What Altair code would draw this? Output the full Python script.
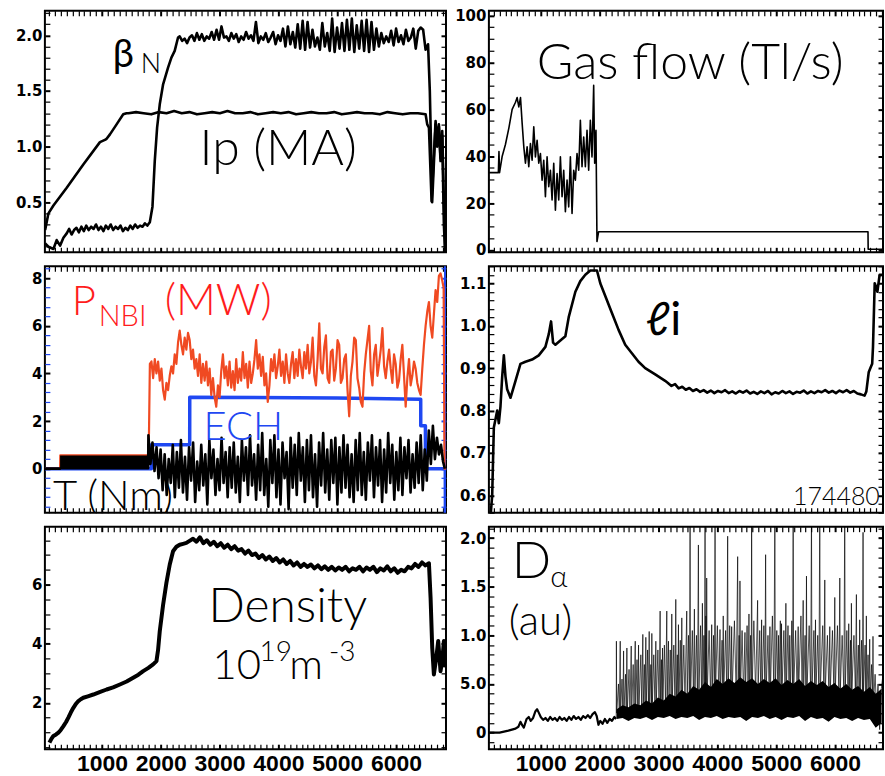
import numpy as np
import pandas as pd
import altair as alt

# ---------------- domains / layout ----------------
X_LEFT = [30, 6850]
X_RIGHT = [119, 6814]
Y_A = [0.05, 2.22]
Y_B = [-1, 102]
Y_C = [-1.85, 8.5]
Y_D = [0.559, 1.14]
Y_E = [0.43, 7.96]
Y_F = [-0.171, 2.118]
W_L, W_R = 402, 395
H1, H2, H3 = 242, 247, 223

RED_LINE = "#f04a22"
RED_TEXT = "#ff1c1c"
BLUE = "#1f48f2"

# ---------------- panel A : beta_N and Ip ----------------
IP_T = [34, 90, 175, 401, 683, 966, 1050, 1079, 1136, 1249, 1362, 1418]
IP_V = [0.25, 0.40, 0.47, 0.63, 0.84, 1.04, 1.06, 1.07, 1.11, 1.20, 1.29, 1.30]
IP_FLAT = [1.30, 1.31, 1.30, 1.29, 1.31, 1.30, 1.32, 1.30, 1.31, 1.29, 1.30, 1.31, 1.30, 1.32,
           1.30, 1.30, 1.31, 1.29, 1.30, 1.31, 1.30, 1.31, 1.29, 1.30, 1.31, 1.30, 1.30, 1.31,
           1.29, 1.30, 1.31, 1.30, 1.30, 1.29, 1.31, 1.30, 1.29, 1.30, 1.30, 1.29]
IP_END_T = [6531, 6560, 6605, 6633, 6673, 6701, 6729, 6757, 6786, 6814, 6835]
IP_END_V = [1.20, 1.17, 0.51, 0.81, 1.23, 1.02, 1.20, 0.87, 1.14, 0.51, 0.08]

BN_START_T = [34, 90, 175, 230, 288, 345]
BN_START_V = [0.13, 0.10, 0.08, 0.16, 0.11, 0.18]
BN_LOW = [0.22, 0.26, 0.21, 0.25, 0.27, 0.23, 0.28, 0.24, 0.29, 0.25, 0.28, 0.26, 0.30, 0.25,
          0.28, 0.24, 0.29, 0.26, 0.30, 0.25, 0.28, 0.26, 0.29, 0.24, 0.27, 0.25, 0.29, 0.26,
          0.30, 0.27, 0.29, 0.28, 0.31, 0.29, 0.32]
BN_RISE_T = [1859, 1898, 1938, 1983, 2040, 2124, 2181, 2237, 2294]
BN_RISE_V = [0.46, 0.87, 1.17, 1.38, 1.56, 1.71, 1.80, 1.86, 1.98]
BN_FLAT = [1.99, 1.95, 1.97, 1.93, 1.98, 2.00, 1.95, 2.02, 1.96, 2.01, 1.95, 1.99, 1.97, 2.03, 1.96,
           2.05, 1.96, 2.08, 1.98, 1.99, 1.95, 2.02, 1.97, 2.01, 1.94, 1.99, 1.96, 2.03, 1.97,
           2.00, 1.95, 2.12, 1.93, 1.99, 1.96, 2.02, 1.94, 1.98, 2.03, 1.92, 2.00,
           1.95, 2.06, 1.90, 2.08, 1.92, 2.03, 1.89, 2.10, 1.88, 2.13, 1.87, 2.12, 1.89, 2.05, 1.90,
           1.98, 1.87, 2.11, 1.90, 2.02, 1.86, 2.15, 1.85, 2.07, 1.88, 2.11, 1.86, 2.14, 1.87,
           2.15, 1.85, 2.09, 1.88, 2.13, 1.86, 2.14, 1.85, 2.12, 1.87, 2.06, 1.90, 2.02, 1.93,
           1.99, 1.94, 2.04, 1.91, 2.06, 1.94, 2.00, 1.92, 2.05, 1.95, 1.98, 2.06, 1.88, 2.04,
           2.07, 2.05, 1.87, 1.92]
BN_END_T = [6575, 6600, 6615, 6640, 6673, 6701, 6729, 6757, 6786, 6814, 6835]
BN_END_V = [1.50, 0.90, 0.50, 0.80, 1.20, 1.00, 1.18, 0.90, 1.10, 0.30, 0.05]

# ---------------- panel B : gas flow ----------------
GAS_START = [(119, 33), (280, 33), (290, 42), (300, 33), (345, 40), (400, 45), (458, 52),
             (514, 60), (571, 63), (599, 65), (627, 61), (656, 65), (684, 54), (712, 44)]
GAS_NOISE = [37, 44, 35.5, 45.4, 38.3, 52.5, 39.7, 46.8, 37, 41.1, 29.8, 38.3, 22.7, 39.7, 27,
             34, 21.3, 37, 17, 32.6, 21.3, 39.7, 22.7, 34, 16.3, 29.8, 18.4, 39.7, 15.6, 34,
             29.8, 41.1, 34, 55.3, 35.5, 48.2, 35.5, 51, 34, 55.3, 39.7, 70.2]
GAS_END = [(1916, 37), (1938, 51), (1955, 3.6), (1983, 7.8), (6559, 7.8), (6562, 0.3), (6814, 0.3)]

# ---------------- panel C : P_NBI, ECH, torque ----------------
NBI_START = [(30, 0), (288, 0), (292, 0.56), (1785, 0.56), (1800, 1.5), (1815, 4.4)]
NBI_NOISE = [4.5, 3.8, 4.6, 4.0, 4.5, 3.7, 4.2, 3.3, 2.9, 3.6, 3.3, 3.9, 4.3, 4.0, 4.8, 4.4, 5.3,
             5.8, 5.2, 4.8, 5.5, 5.0, 5.7, 5.4, 4.6, 5.0, 4.2, 4.6, 3.9, 4.8, 3.6, 4.4, 3.7, 4.5,
             3.5, 4.2, 3.1, 3.8, 3.0, 2.6, 3.5, 3.0, 4.1, 4.8, 3.8, 4.3, 3.5, 4.5, 3.4, 4.1, 3.3,
             4.6, 3.6, 4.2, 3.7, 4.9, 3.8, 4.4, 3.4, 4.5, 3.6, 4.0, 4.6, 5.4, 4.2, 4.8, 3.9, 4.7,
             3.5, 4.0, 2.8, 3.5, 4.6, 4.1, 4.8, 3.8, 4.3, 5.0, 3.9, 4.5, 3.6, 4.8, 4.0, 3.6, 4.4,
             4.9, 3.8, 4.6, 3.9, 5.0, 4.3, 3.8, 4.9, 4.2, 5.2, 4.0, 4.5, 5.5, 3.9, 3.5, 4.6, 6.1,
             4.2, 4.0, 5.1, 5.6, 3.8, 3.6, 4.9, 5.0, 3.7, 4.2, 5.4, 5.2, 3.6, 3.8, 4.6, 4.8, 3.3,
             2.2, 3.9, 4.5, 5.5, 5.4, 3.8, 3.4, 2.8, 2.6, 4.0, 4.8, 5.4, 6.0, 4.1, 3.5, 4.8, 5.2,
             3.9, 4.4, 5.0, 5.9, 4.3, 3.8, 4.5, 5.0, 4.2, 3.6, 4.8, 4.4, 3.4, 3.7, 4.6, 5.2, 3.9,
             2.6, 3.8, 4.6, 3.5, 3.9, 4.5, 4.2, 3.6, 3.3, 3.1, 4.2, 5.2, 6.0, 6.6, 7.0, 6.0, 5.5,
             6.5, 7.5, 7.0, 8.1, 8.2, 7.9]
NBI_END = [(6810, 7.6), (6825, 0.0), (6850, 0.0)]

ECH_T = [30, 1840, 1841, 2492, 2493, 5000, 6420, 6421, 6500, 6501, 6838, 6842, 6846]
ECH_V = [0, 0, 1.0, 1.0, 3.0, 2.97, 2.92, 1.8, 1.8, 0, 0, -3, 10]

TQ_START = [(30, 0), (288, 0), (290, 0.02), (1785, 0.02)]
TQ_BAND_T = [288, 1785]
TQ_BAND_LO = [0.0, 0.0]
TQ_BAND_HI = [0.55, 0.55]
TQ_NOISE = [1.4, 0.2, 1.1, -0.1, 0.9, -0.4, 0.8, -0.9, 0.6, -1.1, 0.4, -0.6, 1.0, -1.2, 0.7,
            -0.8, 1.2, -1.0, 0.5, -1.3, 0.9, -0.5, 1.1, -1.4, 0.3, -0.9, 1.0, -0.7, 0.6, -1.5,
            1.2, -0.4, 0.8, -1.1, 0.4, -0.9, 1.3, -0.6, 0.7, -1.2, 0.9, -0.8, 1.1, -1.0, 0.5,
            -1.4, 1.2, -0.5, 0.9, -1.1, 1.4, -0.7, 0.6, -1.3, 1.0, -0.9, 1.5, -1.1, 0.4, -1.6,
            1.2, -0.6, 1.4, -1.2, 0.8, -1.5, 1.1, -0.4, 0.7, -1.7, 1.3, -0.8, 1.0, -1.1, 1.5,
            -0.5, 0.9, -1.4, 1.2, -0.9, 1.4, -1.2, 0.6, -1.6, 1.1, -0.7, 1.5, -1.0, 0.8, -1.3,
            1.2, -0.6, 1.3, -1.5, 0.9, -1.0, 1.4, -0.8, 1.0, -1.2, 0.6, -1.4, 1.2, -0.9, 1.5,
            -1.1, 0.7, -1.3, 1.1, -0.5, 1.4, -1.2, 0.9, -0.7, 1.2, -1.4, 0.8, -1.0, 1.5, -0.6,
            1.0, -1.3, 0.7, -0.9, 1.3, -1.1, 0.9, -0.4, 1.2, -1.0, 0.6, -0.8, 1.1, -0.6, 1.4,
            -0.9, 0.8, -0.5, 1.6, 0.2, 1.8, 0.4, 1.3, 0.6, 1.0, 0.3]
TQ_END = [(6830, 0.0)]

# ---------------- panel D : internal inductance ----------------
LI_START = [(147, 0.55), (175, 0.60), (203, 0.76), (232, 0.78), (260, 0.80), (288, 0.77),
            (316, 0.81), (345, 0.88), (373, 0.93), (401, 0.88), (429, 0.85), (486, 0.83),
            (571, 0.87), (655, 0.91), (740, 0.915), (853, 0.92), (966, 0.93), (1079, 0.95),
            (1136, 0.98), (1175, 1.01), (1209, 0.96), (1249, 0.955), (1333, 0.965),
            (1418, 0.975), (1475, 1.02), (1588, 1.08), (1672, 1.105), (1757, 1.12),
            (1842, 1.13), (1955, 1.13), (2011, 1.10), (2096, 1.07), (2209, 1.03), (2322, 0.99),
            (2435, 0.955), (2548, 0.935), (2661, 0.915), (2774, 0.90), (2944, 0.885),
            (3113, 0.87)]
LI_FLAT = [0.865, 0.858, 0.862, 0.852, 0.856, 0.849, 0.853, 0.846, 0.850, 0.844, 0.848, 0.842,
           0.847, 0.841, 0.846, 0.843, 0.848, 0.841, 0.845, 0.840, 0.846, 0.842, 0.847, 0.840,
           0.844, 0.839, 0.845, 0.841, 0.846, 0.838, 0.843, 0.840, 0.846, 0.841, 0.845, 0.839,
           0.844, 0.842, 0.847, 0.840, 0.845, 0.841, 0.846, 0.843, 0.848, 0.842, 0.846, 0.841,
           0.847, 0.843, 0.848, 0.842, 0.846, 0.840, 0.838, 0.835]
LI_END = [(6531, 0.845), (6571, 0.89), (6600, 0.90), (6630, 0.91), (6644, 0.95), (6673, 1.10),
          (6700, 1.09), (6718, 1.08), (6757, 1.12), (6814, 1.12)]

# ---------------- panel E : density ----------------
DEN_START = [(107, 0.65), (140, 0.78), (175, 0.88), (220, 0.93), (260, 0.99), (300, 1.08),
             (345, 1.21), (390, 1.35), (429, 1.50), (470, 1.67), (514, 1.83), (560, 1.97),
             (599, 2.06), (640, 2.12), (683, 2.17), (760, 2.22), (853, 2.28), (960, 2.36),
             (1079, 2.45), (1190, 2.52), (1305, 2.62), (1420, 2.72), (1531, 2.85), (1620, 2.95),
             (1701, 3.07), (1790, 3.18), (1870, 3.30), (1927, 3.41), (1955, 3.8), (1983, 4.42),
             (2040, 5.32), (2096, 6.06), (2153, 6.68), (2209, 7.13), (2266, 7.28), (2322, 7.35),
             (2380, 7.38), (2435, 7.41), (2490, 7.48)]
DEN_FLAT = [7.55, 7.45, 7.6, 7.4, 7.5, 7.35, 7.45, 7.3, 7.4, 7.25, 7.35, 7.2, 7.3, 7.15, 7.2,
            7.05, 7.15, 7.0, 7.05, 6.9, 7.0, 6.85, 6.95, 6.8, 6.9, 6.75, 6.85, 6.7, 6.8, 6.65,
            6.75, 6.6, 6.7, 6.6, 6.68, 6.55, 6.65, 6.52, 6.62, 6.5, 6.6, 6.48, 6.58, 6.5, 6.6,
            6.45, 6.55, 6.5, 6.6, 6.45, 6.58, 6.5, 6.6, 6.42, 6.55, 6.48, 6.62, 6.45, 6.55, 6.4,
            6.5, 6.45, 6.6, 6.55, 6.7, 6.6, 6.75, 6.65, 6.72]
DEN_END = [(6588, 5.55), (6616, 3.86), (6644, 2.96), (6684, 3.52), (6718, 4.09), (6757, 3.07),
           (6790, 3.5), (6814, 4.09), (6840, 3.2)]

# ---------------- panel F : D-alpha ----------------
DA_PRE = [(119, 0.0), (300, 0.0), (450, 0.02), (571, 0.04), (620, 0.06), (655, 0.11), (690, 0.07),
          (712, 0.05), (760, 0.14), (796, 0.16), (830, 0.12), (870, 0.15), (910, 0.22),
          (938, 0.24), (970, 0.2), (1000, 0.16), (1040, 0.13), (1080, 0.15), (1120, 0.12),
          (1160, 0.16), (1200, 0.13), (1240, 0.15), (1280, 0.12), (1320, 0.16), (1360, 0.13),
          (1400, 0.15), (1440, 0.12), (1480, 0.16), (1520, 0.13), (1560, 0.17), (1600, 0.14),
          (1640, 0.16), (1680, 0.13), (1720, 0.17), (1760, 0.15), (1800, 0.18), (1840, 0.15),
          (1880, 0.19), (1920, 0.21), (1950, 0.17), (1980, 0.08), (2011, 0.12), (2050, 0.09),
          (2090, 0.14), (2130, 0.10), (2170, 0.14), (2210, 0.12), (2250, 0.16), (2280, 0.14)]
DA_SPIKES = [
    (2282, 0.15), (2285, 0.94), (2290, 0.2), (2320, 0.5), (2335, 0.18), (2350, 0.94), (2356, 0.2),
    (2380, 0.55), (2395, 0.2), (2407, 0.84), (2414, 0.22), (2440, 0.6), (2452, 0.2), (2463, 0.87),
    (2470, 0.22), (2500, 0.65), (2515, 0.2), (2537, 0.89), (2545, 0.24), (2570, 0.7), (2585, 0.22),
    (2605, 0.94), (2612, 0.25), (2635, 0.75), (2648, 0.22), (2661, 0.90), (2668, 0.26), (2700, 0.8),
    (2715, 0.25), (2734, 1.01), (2741, 0.26), (2760, 0.7), (2772, 0.25), (2785, 0.98), (2792, 0.28),
    (2815, 0.85), (2830, 0.26), (2842, 1.04), (2850, 0.3), (2870, 0.7), (2880, 0.25), (2887, 1.02),
    (2895, 0.28), (2920, 0.8), (2940, 0.26), (2955, 0.94), (2962, 0.3), (2990, 0.85), (3010, 0.28),
    (3028, 1.25), (3035, 0.3), (3050, 0.75), (3060, 0.28), (3068, 0.87), (3075, 0.3), (3100, 0.9),
    (3120, 0.28), (3141, 1.25), (3148, 0.3), (3160, 0.7), (3170, 0.94), (3178, 0.3), (3200, 0.85),
    (3215, 0.3), (3226, 1.22), (3234, 0.32), (3260, 0.9), (3280, 0.3), (3294, 1.37), (3302, 0.32),
    (3320, 0.8), (3330, 0.3), (3339, 1.11), (3347, 0.33), (3370, 0.95), (3385, 0.3), (3396, 1.18),
    (3404, 0.34), (3430, 0.9), (3450, 0.32), (3480, 1.25), (3488, 0.35), (3510, 1.0), (3525, 0.32),
    (3537, 2.3), (3545, 0.35), (3575, 1.05), (3595, 0.33), (3610, 1.27), (3618, 0.36), (3645, 1.0),
    (3662, 0.34), (3678, 1.93), (3686, 0.36), (3715, 1.1), (3732, 0.34), (3746, 1.33), (3754, 0.38),
    (3772, 1.0), (3782, 0.35), (3791, 2.3), (3799, 0.38), (3805, 1.2), (3812, 0.36), (3819, 1.59),
    (3827, 0.38), (3860, 1.05), (3885, 0.36), (3904, 1.11), (3912, 0.38), (3935, 1.0), (3950, 0.36),
    (3961, 2.3), (3969, 0.4), (4000, 1.1), (4025, 0.38), (4045, 1.06), (4053, 0.4), (4080, 0.95),
    (4092, 0.38), (4100, 1.2), (4108, 0.4), (4140, 1.05), (4160, 0.38), (4175, 2.02), (4183, 0.4),
    (4210, 1.1), (4230, 0.38), (4243, 1.09), (4251, 0.4), (4290, 1.15), (4320, 0.38), (4345, 1.81),
    (4353, 0.4), (4370, 1.0), (4378, 0.38), (4384, 1.56), (4392, 0.4), (4420, 1.05), (4445, 0.38),
    (4469, 1.03), (4477, 0.4), (4505, 1.1), (4522, 0.38), (4537, 1.22), (4545, 0.4), (4565, 1.0),
    (4575, 0.38), (4582, 2.3), (4590, 0.42), (4620, 1.15), (4650, 0.4), (4684, 1.36), (4692, 0.42),
    (4720, 1.05), (4738, 0.4), (4752, 1.16), (4760, 0.42), (4790, 1.1), (4808, 0.4), (4820, 1.83),
    (4828, 0.42), (4860, 1.0), (4880, 0.4), (4893, 1.09), (4901, 0.42), (4935, 1.2), (4960, 0.4),
    (4977, 2.3), (4985, 0.42), (5010, 1.05), (5028, 0.4), (5040, 1.0), (5048, 0.4), (5070, 1.15),
    (5082, 0.4), (5090, 1.12), (5098, 0.42), (5130, 1.05), (5150, 0.4), (5164, 1.33), (5172, 0.42),
    (5200, 1.1), (5218, 0.4), (5230, 1.0), (5240, 0.42), (5265, 1.15), (5278, 0.4), (5288, 2.3),
    (5296, 0.42), (5330, 1.05), (5355, 0.4), (5373, 1.09), (5381, 0.42), (5420, 1.2), (5440, 0.4),
    (5458, 1.36), (5466, 0.42), (5490, 1.0), (5505, 0.4), (5514, 1.61), (5522, 0.42), (5560, 1.1),
    (5585, 0.4), (5599, 2.3), (5607, 0.42), (5640, 1.05), (5655, 0.4), (5667, 1.16), (5675, 0.42),
    (5705, 1.0), (5725, 0.4), (5740, 2.3), (5748, 0.42), (5790, 1.1), (5810, 0.4), (5825, 1.57),
    (5833, 0.42), (5870, 1.0), (5895, 0.4), (5910, 1.09), (5918, 0.42), (5955, 1.05), (5980, 0.4),
    (5995, 1.39), (6003, 0.42), (6040, 1.1), (6065, 0.4), (6080, 1.59), (6088, 0.42), (6120, 1.0),
    (6150, 0.4), (6164, 2.3), (6172, 0.42), (6200, 1.05), (6220, 0.4), (6232, 1.12), (6240, 0.42),
    (6262, 0.95), (6270, 0.4), (6277, 1.33), (6285, 0.42), (6320, 1.0), (6345, 0.4), (6362, 1.42),
    (6370, 0.42), (6395, 0.9), (6408, 0.4), (6418, 1.16), (6426, 0.42), (6450, 0.95), (6465, 0.4),
    (6475, 2.06), (6483, 0.42), (6510, 0.9), (6522, 0.38), (6531, 1.2), (6539, 0.38), (6560, 0.8),
    (6575, 0.36), (6588, 0.96), (6596, 0.36), (6620, 0.7), (6635, 0.34), (6644, 0.99), (6652, 0.3),
    (6680, 0.6), (6701, 0.27), (6730, 0.5), (6757, 0.03), (6785, 0.45), (6814, 0.6)]
DA_BAND_HI = [0.24, 0.28, 0.26, 0.3, 0.28, 0.33, 0.3, 0.36, 0.33, 0.4, 0.37, 0.44, 0.4, 0.48, 0.44,
              0.52, 0.47, 0.55, 0.5, 0.56, 0.51, 0.57, 0.52, 0.56, 0.5, 0.55, 0.51, 0.56, 0.49,
              0.54, 0.5, 0.55, 0.48, 0.53, 0.49, 0.53, 0.47, 0.51, 0.45, 0.5, 0.44, 0.48, 0.42,
              0.47, 0.4, 0.45]
DA_BAND_LO = [0.14, 0.15, 0.12, 0.15, 0.14, 0.16, 0.13, 0.16, 0.15, 0.17, 0.14, 0.16, 0.15, 0.17,
              0.13, 0.16, 0.15, 0.17, 0.14, 0.16, 0.15, 0.16, 0.12, 0.16, 0.15, 0.17, 0.14, 0.16,
              0.13, 0.16, 0.15, 0.17, 0.12, 0.16, 0.14, 0.15, 0.11, 0.16, 0.14, 0.15, 0.12, 0.15,
              0.13, 0.14, 0.05, 0.1]

# ---------------- annotations (label, t, value, size, color, weight) ----------------
TXT_A = [("β", 1184, 1.718, 38, "black", 400), ("N", 1660, 1.664, 27, "black", 300),
         ("Ip (MA)", 2660, 0.839, 50, "black", 300)]
TXT_B = [("Gas flow (Tl/s)", 933, 73.1, 50, "black", 300)]
TXT_C = [("P", 488, 6.45, 42, RED_TEXT, 300), ("NBI", 946, 5.99, 29, RED_TEXT, 300),
         ("(MW)", 2066, 6.45, 44, RED_TEXT, 300), ("ECH", 2727, 1.21, 40, BLUE, 300),
         ("T (Nm)", 166, -1.72, 42, "black", 300)]
TXT_D = [("ℓi", 2780, 0.978, 46, "black", 400)]
TXT_D_RIGHT = [("174480", 6760, 0.578, 25, "black", 300)]
TXT_E = [("Density", 2812, 4.72, 48, "black", 300), ("10", 2880, 2.79, 42, "black", 300),
         ("19", 3681, 3.40, 28, "black", 300), ("m", 4186, 2.79, 42, "black", 300),
         ("-3", 4860, 3.40, 28, "black", 300)]
TXT_F = [("D", 509, 1.594, 52, "black", 300), ("α", 1160, 1.50, 30, "black", 300),
         ("(au)", 458, 1.0, 42, "black", 300)]


# ---------------- helpers ----------------
def pts(*parts):
    t, v = [], []
    for p in parts:
        for a, b in p:
            t.append(float(a))
            v.append(float(b))
    return pd.DataFrame({"t": t, "v": v, "i": range(len(t))})


def grid(t0, t1, vals):
    return list(zip(np.linspace(t0, t1, len(vals)), vals))


def scales(xd, yd):
    return (alt.Scale(domain=xd, nice=False, zero=False),
            alt.Scale(domain=yd, nice=False, zero=False))


def line(df, color, width, sx, sy, opacity=1.0):
    return alt.Chart(df).mark_line(color=color, strokeWidth=width, clip=True,
                                   strokeJoin="round", opacity=opacity).encode(
        x=alt.X("t:Q", scale=sx, axis=None),
        y=alt.Y("v:Q", scale=sy, axis=None),
        order="i:Q")


def band(t, lo, hi, sx, sy):
    df = pd.DataFrame({"t": t, "lo": lo, "hi": hi})
    return alt.Chart(df).mark_area(color="black", clip=True).encode(
        x=alt.X("t:Q", scale=sx, axis=None),
        y=alt.Y("lo:Q", scale=sy, axis=None),
        y2="hi:Q")


def texts(items, sx, sy, align="left"):
    out = []
    for lab, t, v, s, c, wgt in items:
        df = pd.DataFrame({"t": [t], "v": [v], "label": [lab]})
        out.append(alt.Chart(df).mark_text(
            align=align, baseline="alphabetic", font="Lato", fontWeight=wgt,
            fontSize=s, color=c, clip=True).encode(
            x=alt.X("t:Q", scale=sx, axis=None),
            y=alt.Y("v:Q", scale=sy, axis=None),
            text="label:N"))
    return out


def axis(orient, values, major, labels=False, label_expr=None, fs=15, minor_color="black",
         major_color="black", font="DejaVu Sans"):
    kw = dict(orient=orient, values=values, domain=False, grid=False, title=None,
              offset=-5, tickSize=5, ticks=True, labels=labels,
              tickColor={"condition": {"test": major, "value": major_color}, "value": minor_color},
              tickWidth={"condition": {"test": major, "value": 2}, "value": 1.2})
    if labels:
        kw.update(labelExpr=label_expr, labelFont=font, labelFontWeight="bold",
                  labelFontSize=fs, labelColor="black", labelPadding=3,
                  labelOverlap=False, labelFlush=False)
    return alt.Axis(**kw)


def ticks(lo, hi, step):
    return [round(float(x), 4) for x in np.arange(lo, hi + step / 2, step)]


def major_test(step):
    return f"abs(datum.value/{step} - round(datum.value/{step})) < 0.001"


X_MAJOR = "datum.value % 1000 === 0"
X_LABEL = "datum.value % 1000 === 0 ? format(datum.value, 'd') : ''"


def panel(layers, xd, yd, w, h, xvals, yvals, ystep, ylabel, xlabels=False,
          left_minor="black", right_color="black", right_major="black"):
    sx, sy = scales(xd, yd)
    d = pd.DataFrame({"t": xd, "v": yd})
    ym = major_test(ystep)
    a1 = alt.Chart(d).mark_point(opacity=0, size=1).encode(
        x=alt.X("t:Q", scale=sx, axis=axis("bottom", xvals, X_MAJOR, labels=xlabels,
                                           label_expr=X_LABEL, fs=23,
                                           font="Liberation Sans")),
        y=alt.Y("v:Q", scale=sy, axis=axis("left", yvals, ym, labels=True, label_expr=ylabel,
                                           minor_color=left_minor)))
    a2 = alt.Chart(d).mark_point(opacity=0, size=1).encode(
        x=alt.X("t:Q", scale=sx, axis=axis("top", xvals, X_MAJOR)),
        y=alt.Y("v:Q", scale=sy, axis=axis("right", yvals, ym, minor_color=right_color,
                                           major_color=right_major)))
    return alt.layer(*layers, a1, a2).resolve_axis(
        x="independent", y="independent").properties(width=w, height=h)


XV_L = list(range(100, 6900, 100))
XV_R = list(range(200, 6900, 100))

# ---------------- panel A ----------------
sxL, syA = scales(X_LEFT, Y_A)
ip_df = pts(zip(IP_T, IP_V), grid(1450, 6503, IP_FLAT), zip(IP_END_T, IP_END_V))
bn_df = pts(zip(BN_START_T, BN_START_V), grid(401, 1814, BN_LOW), zip(BN_RISE_T, BN_RISE_V),
            grid(2322, 6545, BN_FLAT), zip(BN_END_T, BN_END_V))
pA = panel([line(ip_df, "black", 2.6, sxL, syA), line(bn_df, "black", 2.6, sxL, syA)]
           + texts(TXT_A, sxL, syA),
           X_LEFT, Y_A, W_L, H1, XV_L, ticks(0.1, 2.2, 0.1), 0.5,
           "abs(datum.value*2 - round(datum.value*2)) < 0.001 ? format(datum.value, '.1f') : ''")

# ---------------- panel B ----------------
sxR, syB = scales(X_RIGHT, Y_B)
gas_df = pts(GAS_START, grid(740, 1899, GAS_NOISE), GAS_END)
pB = panel([line(gas_df, "black", 1.6, sxR, syB)] + texts(TXT_B, sxR, syB),
           X_RIGHT, Y_B, W_R, H1, XV_R, ticks(0, 100, 5), 20,
           "datum.value % 20 === 0 ? format(datum.value, 'd') : ''")

# ---------------- panel C ----------------
_, syC = scales(X_LEFT, Y_C)
ech_df = pts(zip(ECH_T, ECH_V))
nbi_df = pts(NBI_START, grid(1842, 6786, NBI_NOISE), NBI_END)
tq_df = pts(TQ_START, grid(1790, 6800, TQ_NOISE), TQ_END)
pC = panel([line(ech_df, BLUE, 3.5, sxL, syC), line(nbi_df, RED_LINE, 2.2, sxL, syC),
            band(TQ_BAND_T, TQ_BAND_LO, TQ_BAND_HI, sxL, syC),
            line(tq_df, "black", 2.6, sxL, syC)] + texts(TXT_C, sxL, syC),
           X_LEFT, Y_C, W_L, H2, XV_L, ticks(-1.6, 8.4, 0.4), 2,
           "abs(datum.value/2 - round(datum.value/2)) < 0.001 ? format(datum.value, 'd') : ''",
           left_minor=BLUE, right_color=BLUE, right_major=BLUE)

# ---------------- panel D ----------------
_, syD = scales(X_RIGHT, Y_D)
li_df = pts(LI_START, grid(3160, 6500, LI_FLAT), LI_END)
pD = panel([line(li_df, "black", 2.6, sxR, syD)] + texts(TXT_D, sxR, syD)
           + texts(TXT_D_RIGHT, sxR, syD, align="right"),
           X_RIGHT, Y_D, W_R, H2, XV_R, ticks(0.56, 1.14, 0.02), 0.1,
           "abs(datum.value*10 - round(datum.value*10)) < 0.001 ? format(datum.value, '.1f') : ''")

# ---------------- panel E ----------------
_, syE = scales(X_LEFT, Y_E)
den_df = pts(DEN_START, grid(2548, 6560, DEN_FLAT), DEN_END)
pE = panel([line(den_df, "black", 4, sxL, syE)] + texts(TXT_E, sxL, syE),
           X_LEFT, Y_E, W_L, H3, XV_L, ticks(0.5, 7.5, 0.5), 2,
           "abs(datum.value/2 - round(datum.value/2)) < 0.001 ? format(datum.value, 'd') : ''",
           xlabels=True)

# ---------------- panel F ----------------
_, syF = scales(X_RIGHT, Y_F)
da_pre_df = pts(DA_PRE)
da_df = pts(DA_SPIKES)
bt = list(np.linspace(2290, 6790, len(DA_BAND_HI)))
pF = panel([line(da_pre_df, "black", 2.2, sxR, syF), band(bt, DA_BAND_LO, DA_BAND_HI, sxR, syF),
            line(da_df, "black", 0.8, sxR, syF, opacity=0.85)] + texts(TXT_F, sxR, syF),
           X_RIGHT, Y_F, W_R, H3, XV_R, ticks(-0.1, 2.1, 0.1), 0.5,
           "abs(datum.value*2 - round(datum.value*2)) < 0.001 ? (datum.value == 0 ? '0' : "
           "(abs(datum.value - 0.5) < 0.001 ? '5.0' : format(datum.value, '.1f'))) : ''",
           xlabels=True)

chart = alt.concat(pA, pB, pC, pD, pE, pF, columns=2,
                   spacing={"row": 14, "column": 43}, bounds="flush").properties(
    padding={"left": 14, "top": 4, "right": 0, "bottom": 0},
    background="white",
).resolve_scale(x="independent", y="independent").configure_view(
    stroke="black", strokeWidth=2)

chart.save("out.html", embed_options={"renderer": "svg", "actions": False})
